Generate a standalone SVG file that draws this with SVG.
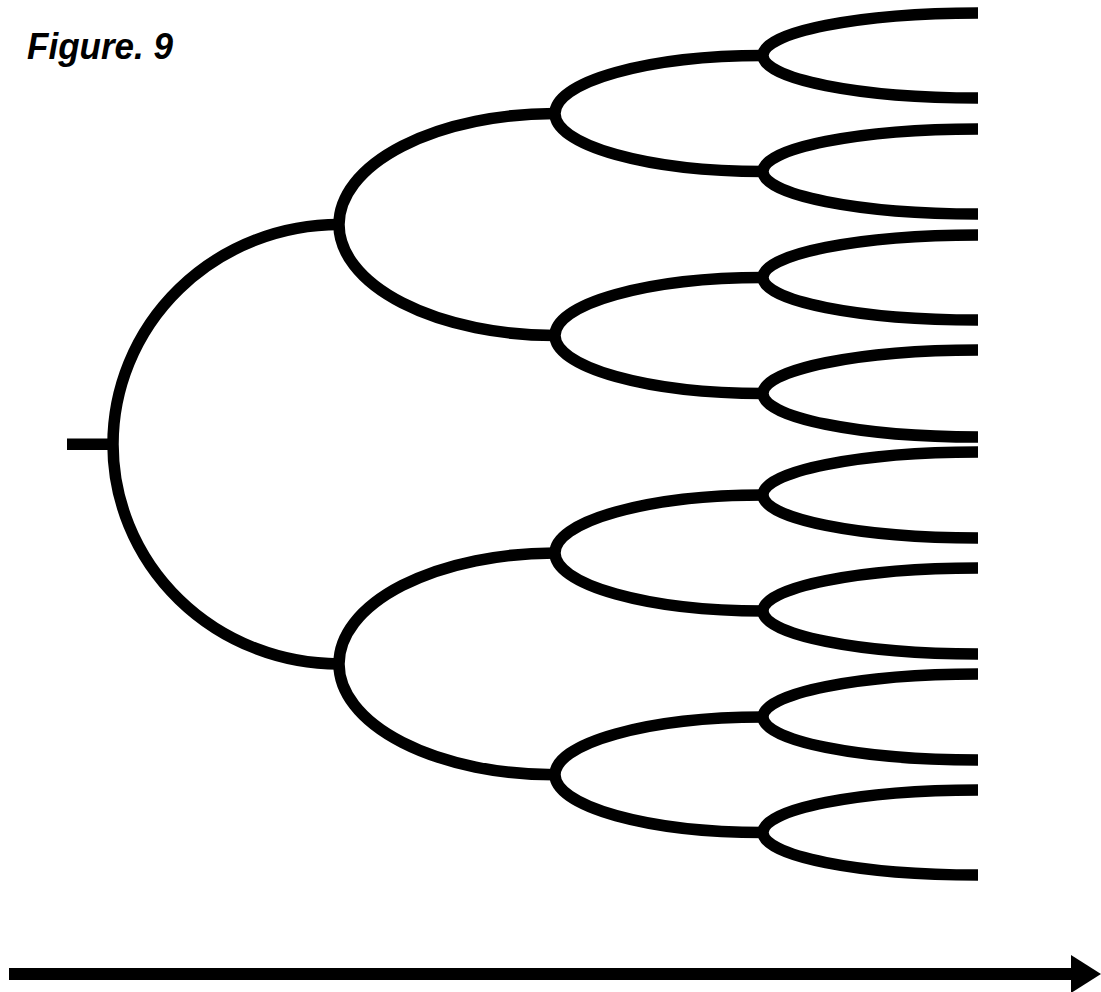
<svg xmlns="http://www.w3.org/2000/svg" width="1101" height="992" viewBox="0 0 1101 992">
<style>
.br{fill:none;stroke:#000;stroke-width:11.5;stroke-linecap:butt}
.t{font-family:"Liberation Sans",Arial,sans-serif;font-weight:bold;font-style:italic;font-size:37px;fill:#000}
</style>
<rect width="1101" height="992" fill="#fff"/>
<g id="title"><text class="t" x="27" y="59" textLength="146" lengthAdjust="spacingAndGlyphs">Figure. 9</text></g>
<g id="connectors">
<path id="stub" class="br" d="M67 444.2H114"/>
<path id="root" class="br" d="M339 224.5A226 219.7 0 0 0 113 444.2A226 219.7 0 0 0 339 663.9"/>
<path id="n1a" class="br" d="M555 113.5A216 111 0 0 0 339 224.5A216 111 0 0 0 555 335.5"/>
<path id="n1b" class="br" d="M555 553A216 110.9 0 0 0 339 663.9A216 110.9 0 0 0 555 774.8"/>
<path id="n2a" class="br" d="M763 55.5A208 58 0 0 0 555 113.5A208 58 0 0 0 763 171.5"/>
<path id="n2b" class="br" d="M763 277.5A208 58 0 0 0 555 335.5A208 58 0 0 0 763 393.5"/>
<path id="n2c" class="br" d="M763 495A208 58 0 0 0 555 553A208 58 0 0 0 763 611"/>
<path id="n2d" class="br" d="M763 717A208 57.8 0 0 0 555 774.8A208 57.8 0 0 0 763 832.5"/>
<path id="n3a" class="br" d="M978 13A215 42.5 0 0 0 763 55.5A215 42.5 0 0 0 978 98"/>
<path id="n3b" class="br" d="M978 129A215 42.5 0 0 0 763 171.5A215 42.5 0 0 0 978 214"/>
<path id="n3c" class="br" d="M978 235A215 42.5 0 0 0 763 277.5A215 42.5 0 0 0 978 320"/>
<path id="n3d" class="br" d="M978 350A215 43.5 0 0 0 763 393.5A215 43.5 0 0 0 978 437"/>
<path id="n3e" class="br" d="M978 452A215 43 0 0 0 763 495A215 43 0 0 0 978 538"/>
<path id="n3f" class="br" d="M978 568A215 43 0 0 0 763 611A215 43 0 0 0 978 654"/>
<path id="n3g" class="br" d="M978 674A215 43 0 0 0 763 717A215 43 0 0 0 978 760"/>
<path id="n3h" class="br" d="M978 790A215 42.5 0 0 0 763 832.5A215 42.5 0 0 0 978 875"/>
</g>
<g id="axis">
<path d="M9 974H1076" stroke="#000" stroke-width="12" fill="none"/>
<polygon points="1071,955 1101,974 1071,993" fill="#000"/>
</g>
</svg>
